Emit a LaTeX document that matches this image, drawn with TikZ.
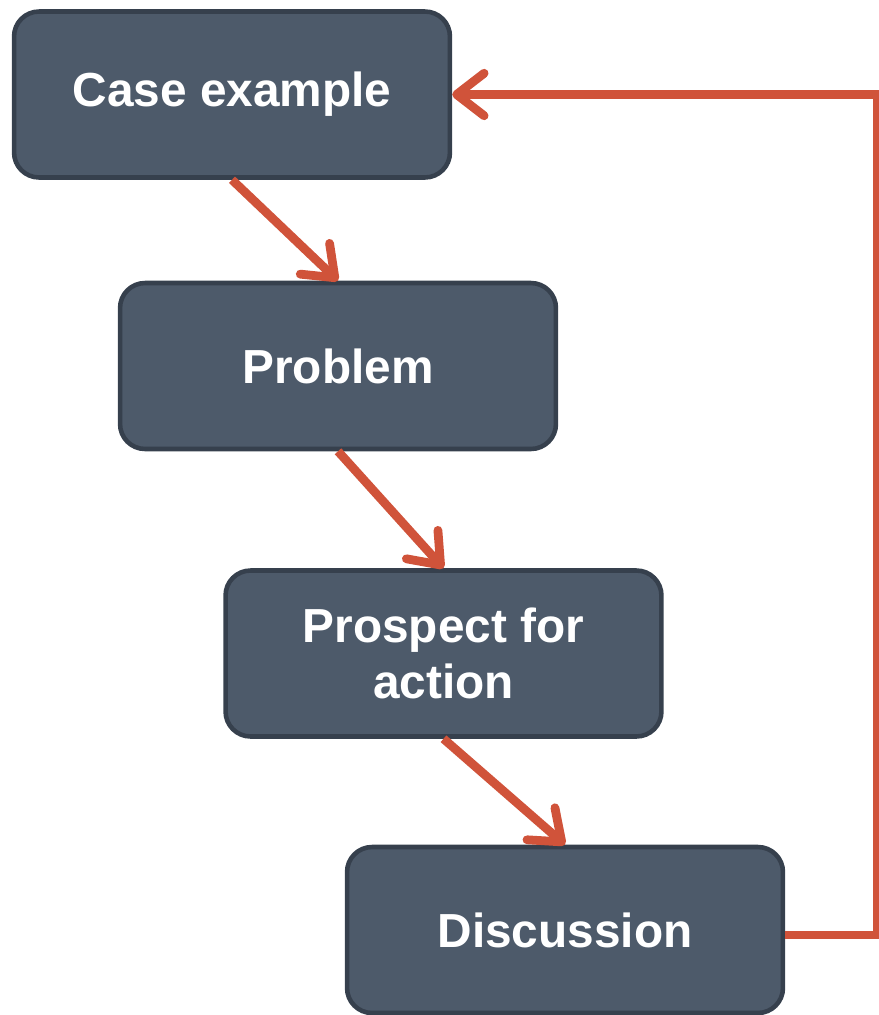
\documentclass[tikz,border=0pt]{standalone}
\usepackage{fontspec}
\setmainfont{Liberation Sans}
\usetikzlibrary{arrows.meta}
\definecolor{boxfill}{HTML}{4D5A6A}
\definecolor{boxline}{HTML}{36404D}
\definecolor{flowred}{HTML}{D0533A}
\begin{document}
\begin{tikzpicture}[x=0.02cm,y=-0.02cm,
    stage/.style={draw=boxline,fill=boxfill,line width=2.6pt,rounded corners=0.5cm,
        minimum width=8.72cm,minimum height=3.32cm,align=center,text=white,
        font=\fontsize{27.2}{31.8}\selectfont\bfseries},
    flow/.style={draw=flowred,line width=5pt,
        -{Straight Barb[length=0.55cm,width=0.85cm,line cap=round,line join=round]}}]
    \useasboundingbox (0,0) rectangle (879,1015);
    % steps
    \node[stage] (case) at (232,94.5) {Case example};
    \node[stage] (problem) at (338,366) {Problem};
    \node[stage] (prospect) at (443.5,653.5) {Prospect for\\action};
    \node[stage] (discussion) at (565,930) {Discussion};
    % arrows
    \draw[flow] (case.south) -- (problem.north);
    \draw[flow] (problem.south) -- (prospect.north);
    \draw[flow] (prospect.south) -- (discussion.north);
    % back to the start
    \draw[flow] ([yshift=-0.1cm]discussion.east) -- ++(92,0) |- (case.east);
\end{tikzpicture}
\end{document}
